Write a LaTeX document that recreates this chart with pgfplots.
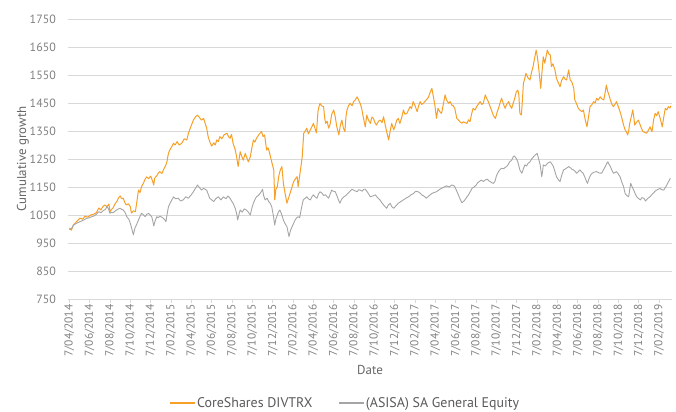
\documentclass[border=0pt]{standalone}
\usepackage{fontspec}
\setmainfont{PT Sans}
\usepackage{pgfplots}
\pgfplotsset{compat=1.18}
\definecolor{cs}{HTML}{F7A028}
\definecolor{eq}{HTML}{A5A5A5}
\definecolor{gridc}{HTML}{D9D9D9}
\definecolor{tickc}{HTML}{808080}
\definecolor{labc}{HTML}{666666}
\definecolor{legc}{HTML}{595959}
\begin{document}
\begin{tikzpicture}
\useasboundingbox (0,0) rectangle (676bp,412bp);
\begin{axis}[
  at={(68bp,113bp)}, anchor=south west, scale only axis,
  width=604bp, height=280bp,
  xmin=-0.13, xmax=59.26, ymin=750, ymax=1750,
  ytick={750,850,...,1750},
  xtick={0,2,...,58},
  xticklabels={7/04/2014,7/06/2014,7/08/2014,7/10/2014,7/12/2014,7/02/2015,7/04/2015,7/06/2015,7/08/2015,7/10/2015,7/12/2015,7/02/2016,7/04/2016,7/06/2016,7/08/2016,7/10/2016,7/12/2016,7/02/2017,7/04/2017,7/06/2017,7/08/2017,7/10/2017,7/12/2017,7/02/2018,7/04/2018,7/06/2018,7/08/2018,7/10/2018,7/12/2018,7/02/2019},
  /pgf/number format/assume math mode=true,
  /pgf/number format/1000 sep={},
  ymajorgrids, grid style={line width=0.9bp, draw=gridc},
  separate axis lines,
  axis x line*=bottom, axis y line*=left,
  x axis line style={draw=gridc, line width=0.9bp, -},
  y axis line style={draw=none},
  ytick style={draw=none},
  xtick style={draw=gridc, line width=0.8bp},
  tick align=outside, major tick length=4bp,
  xticklabel style={rotate=90, anchor=east, font=\fontsize{11.5}{12}\selectfont, text=tickc, inner sep=1.5bp},
  yticklabel style={font=\fontsize{12}{13}\selectfont, text=tickc, inner sep=1bp, xshift=-7bp},
  xlabel={Date}, ylabel={Cumulative growth},
  xlabel style={at={(axis description cs:0.5,-0.2536)}, anchor=center, font=\fontsize{13}{14}\selectfont, text=labc},
  ylabel style={at={(axis description cs:-0.0745,0.5)}, anchor=center, font=\fontsize{13}{14}\selectfont, text=labc},
  legend style={at={(axis description cs:0.4586,-0.372)}, anchor=center, draw=none, fill=none,
    font=\fontsize{14}{15}\selectfont, text=legc,
    nodes={inner sep=1.5bp},
    /tikz/every even column/.append style={column sep=24bp}},
  legend columns=2,
  legend image code/.code={\draw[#1, line width=1.4bp] (0bp,0bp) -- (25bp,0bp);},
  line join=round,
]
\addplot[cs, line width=1bp] coordinates {
(0,1000)(0.2,996)(0.4,1014)(0.6,1022)(0.8,1030)(1.05,1039)(1.3,1035)(1.55,1046)(1.8,1042)(2.1,1050)
(2.4,1053)(2.65,1058)(2.9,1075)(3.1,1068)(3.3,1080)(3.5,1086)(3.7,1080)(3.9,1089)(4.0,1062)(4.15,1070)
(4.3,1075)(4.5,1090)(4.7,1100)(4.85,1112)(5.0,1118)(5.15,1108)(5.3,1110)(5.45,1095)(5.6,1086)(5.8,1090)
(6.0,1080)(6.1,1057)(6.3,1065)(6.5,1062)(6.65,1100)(6.8,1139)(6.95,1130)(7.1,1151)(7.3,1165)(7.45,1178)
(7.6,1186)(7.8,1180)(8.0,1189)(8.15,1175)(8.3,1157)(8.4,1182)(8.6,1190)(8.75,1200)(8.9,1205)(9.1,1198)
(9.25,1211)(9.45,1225)(9.6,1240)(9.7,1262)(9.8,1276)(10.0,1290)(10.25,1306)(10.4,1300)(10.6,1312)(10.8,1300)
(11.05,1306)(11.3,1322)(11.55,1318)(11.7,1340)(11.9,1361)(12.05,1375)(12.2,1389)(12.4,1400)(12.6,1407)(12.8,1398)
(13.0,1389)(13.2,1395)(13.35,1378)(13.5,1361)(13.65,1330)(13.8,1312)(14.0,1296)(14.2,1308)(14.35,1300)(14.5,1318)
(14.65,1312)(14.8,1330)(15.0,1322)(15.2,1336)(15.5,1342)(15.65,1330)(15.8,1324)(15.95,1338)(16.1,1306)(16.3,1285)
(16.45,1258)(16.6,1223)(16.7,1250)(16.8,1276)(16.95,1260)(17.1,1246)(17.3,1270)(17.45,1255)(17.6,1240)(17.8,1258)
(17.95,1290)(18.1,1318)(18.25,1310)(18.4,1324)(18.6,1335)(18.75,1342)(18.9,1348)(19.05,1330)(19.2,1336)(19.4,1282)
(19.55,1290)(19.7,1270)(19.9,1240)(20.1,1211)(20.2,1104)(20.3,1140)(20.45,1151)(20.6,1190)(20.75,1211)(20.9,1223)
(21.05,1163)(21.2,1130)(21.4,1092)(21.55,1110)(21.7,1127)(21.9,1150)(22.05,1169)(22.25,1180)(22.4,1187)(22.5,1151)
(22.65,1190)(22.8,1230)(22.9,1258)(23.05,1342)(23.2,1350)(23.35,1360)(23.5,1340)(23.7,1354)(23.85,1365)(24.0,1377)
(24.15,1360)(24.3,1343)(24.45,1420)(24.55,1437)(24.65,1449)(24.8,1440)(25.0,1437)(25.1,1400)(25.2,1377)(25.35,1385)
(25.5,1360)(25.65,1375)(25.8,1410)(26.0,1425)(26.15,1400)(26.3,1365)(26.5,1336)(26.65,1370)(26.8,1389)(26.95,1360)
(27.1,1348)(27.2,1400)(27.3,1425)(27.45,1440)(27.6,1449)(27.8,1440)(27.95,1455)(28.1,1460)(28.3,1472)(28.45,1460)
(28.6,1449)(28.75,1430)(28.9,1400)(29.1,1365)(29.25,1407)(29.4,1390)(29.6,1377)(29.75,1400)(29.9,1395)(30.05,1380)
(30.2,1371)(30.4,1385)(30.57,1389)(30.75,1380)(30.9,1401)(31.1,1365)(31.25,1340)(31.4,1318)(31.55,1350)(31.7,1377)
(31.9,1354)(32.05,1370)(32.2,1389)(32.35,1395)(32.5,1377)(32.7,1400)(32.85,1425)(33.0,1410)(33.2,1413)(33.35,1425)
(33.5,1437)(33.65,1430)(33.8,1455)(34.0,1440)(34.2,1419)(34.35,1440)(34.5,1455)(34.65,1445)(34.8,1449)(34.95,1455)
(35.1,1461)(35.3,1470)(35.5,1490)(35.65,1502)(35.8,1472)(35.95,1440)(36.1,1395)(36.25,1431)(36.4,1420)(36.6,1413)
(36.8,1450)(36.95,1479)(37.1,1460)(37.3,1449)(37.45,1455)(37.6,1443)(37.75,1440)(37.9,1431)(38.1,1395)(38.25,1390)
(38.4,1383)(38.6,1378)(38.75,1383)(38.9,1380)(39.1,1377)(39.25,1390)(39.4,1383)(39.55,1410)(39.7,1431)(39.9,1425)
(40.05,1437)(40.2,1445)(40.4,1455)(40.55,1445)(40.7,1449)(40.9,1479)(41.05,1465)(41.2,1455)(41.35,1440)(41.5,1425)
(41.7,1405)(41.9,1395)(42.05,1415)(42.2,1431)(42.35,1450)(42.5,1467)(42.7,1445)(42.85,1431)(43.0,1445)(43.2,1455)
(43.35,1440)(43.5,1431)(43.65,1450)(43.8,1467)(43.95,1490)(44.1,1496)(44.2,1480)(44.3,1413)(44.45,1407)(44.55,1460)
(44.65,1520)(44.8,1540)(44.9,1556)(45.1,1540)(45.3,1532)(45.45,1560)(45.6,1580)(45.75,1610)(45.9,1639)(46.0,1620)
(46.1,1592)(46.25,1540)(46.35,1502)(46.5,1570)(46.6,1615)(46.75,1592)(46.9,1620)(47.0,1639)(47.15,1625)(47.3,1621)
(47.4,1580)(47.55,1590)(47.75,1568)(47.9,1538)(48.05,1525)(48.25,1508)(48.4,1530)(48.6,1544)(48.75,1535)(48.9,1532)
(49.05,1560)(49.1,1568)(49.25,1532)(49.4,1526)(49.5,1515)(49.6,1502)(49.7,1461)(49.85,1450)(50.05,1431)(50.2,1425)
(50.4,1419)(50.55,1425)(50.7,1395)(50.9,1365)(51.05,1400)(51.2,1437)(51.4,1445)(51.55,1455)(51.7,1450)(51.85,1467)
(52.0,1460)(52.2,1472)(52.35,1465)(52.55,1461)(52.7,1490)(52.8,1514)(52.95,1490)(53.05,1480)(53.2,1461)(53.35,1445)
(53.5,1437)(53.65,1445)(53.8,1455)(53.95,1440)(54.15,1419)(54.3,1400)(54.5,1371)(54.65,1354)(54.8,1345)(54.9,1336)
(55.0,1350)(55.1,1377)(55.25,1400)(55.4,1425)(55.5,1400)(55.6,1371)(55.75,1380)(55.95,1389)(56.1,1375)(56.25,1360)
(56.4,1348)(56.6,1345)(56.75,1342)(56.9,1350)(57.1,1365)(57.2,1355)(57.3,1348)(57.45,1390)(57.6,1413)(57.75,1405)
(57.9,1419)(58.1,1395)(58.3,1365)(58.45,1400)(58.6,1431)(58.75,1425)(58.9,1437)(59.05,1432)(59.15,1440)
};
\addlegendentry{CoreShares DIVTRX}
\addplot[eq, line width=0.9bp] coordinates {
(0,1003)(0.2,1000)(0.4,1014)(0.6,1018)(0.8,1022)(1.05,1026)(1.3,1030)(1.5,1034)(1.7,1038)(1.95,1040)
(2.2,1044)(2.4,1046)(2.65,1052)(2.9,1062)(3.1,1058)(3.35,1066)(3.55,1070)(3.7,1080)(3.85,1072)(4.0,1056)
(4.15,1060)(4.3,1058)(4.5,1064)(4.65,1068)(4.85,1072)(5.0,1074)(5.15,1070)(5.3,1068)(5.5,1058)(5.65,1044)
(5.85,1035)(6.0,1020)(6.15,1000)(6.3,979)(6.45,1003)(6.6,1015)(6.8,1032)(6.95,1045)(7.1,1056)(7.3,1050)
(7.45,1044)(7.6,1052)(7.8,1056)(7.95,1050)(8.1,1044)(8.2,1030)(8.3,1011)(8.45,1030)(8.6,1044)(8.75,1040)
(8.9,1046)(9.1,1042)(9.25,1038)(9.4,1032)(9.5,1026)(9.6,1050)(9.75,1080)(9.95,1095)(10.1,1105)(10.25,1115)
(10.45,1108)(10.7,1110)(10.95,1100)(11.2,1104)(11.45,1115)(11.7,1110)(11.95,1120)(12.2,1133)(12.4,1145)(12.6,1157)
(12.8,1148)(13.0,1139)(13.2,1145)(13.5,1139)(13.65,1125)(13.8,1110)(14.0,1104)(14.2,1098)(14.4,1108)(14.65,1115)
(14.9,1104)(15.15,1115)(15.4,1108)(15.6,1118)(15.8,1110)(15.95,1100)(16.1,1092)(16.3,1075)(16.45,1056)(16.55,1032)
(16.7,1055)(16.8,1068)(17.0,1060)(17.2,1072)(17.4,1068)(17.6,1060)(17.8,1050)(17.95,1075)(18.1,1092)(18.25,1105)
(18.4,1115)(18.6,1120)(18.75,1127)(18.9,1135)(19.0,1142)(19.1,1120)(19.25,1104)(19.45,1110)(19.6,1098)(19.75,1092)
(19.9,1080)(20.05,1050)(20.2,1014)(20.3,1035)(20.4,1044)(20.55,1060)(20.7,1068)(20.85,1055)(21.05,1032)(21.2,1020)
(21.4,1008)(21.5,990)(21.6,973)(21.75,995)(21.9,1008)(22.05,1020)(22.2,1032)(22.35,1040)(22.5,1044)(22.65,1040)
(22.8,1070)(23.0,1104)(23.2,1110)(23.35,1115)(23.5,1108)(23.7,1104)(23.85,1115)(24.0,1122)(24.15,1115)(24.35,1110)
(24.5,1125)(24.65,1133)(24.85,1128)(25.0,1120)(25.2,1122)(25.35,1115)(25.5,1110)(25.65,1125)(25.8,1139)(25.95,1135)
(26.15,1133)(26.3,1120)(26.45,1105)(26.6,1092)(26.8,1108)(27.0,1115)(27.2,1120)(27.4,1128)(27.6,1135)(27.8,1142)
(28.0,1138)(28.3,1133)(28.45,1140)(28.6,1139)(28.8,1135)(28.95,1142)(29.1,1142)(29.25,1135)(29.4,1127)(29.6,1115)
(29.85,1118)(30.1,1122)(30.3,1112)(30.55,1104)(30.7,1095)(30.9,1086)(31.05,1080)(31.2,1074)(31.35,1085)(31.55,1092)
(31.7,1080)(31.9,1074)(32.1,1082)(32.35,1092)(32.6,1098)(32.85,1104)(33.1,1110)(33.35,1115)(33.6,1122)(33.85,1127)
(34.05,1135)(34.3,1133)(34.5,1128)(34.65,1122)(34.85,1118)(35.1,1110)(35.35,1118)(35.65,1127)(35.85,1130)(36.1,1133)
(36.35,1140)(36.6,1145)(36.85,1150)(37.1,1154)(37.35,1150)(37.6,1157)(37.8,1155)(37.9,1151)(38.1,1135)(38.25,1122)
(38.45,1105)(38.6,1094)(38.75,1098)(38.9,1104)(39.05,1112)(39.25,1122)(39.45,1135)(39.6,1145)(39.8,1150)(40.0,1157)
(40.15,1165)(40.3,1169)(40.5,1175)(40.7,1170)(40.9,1175)(41.1,1178)(41.25,1172)(41.4,1169)(41.55,1165)(41.7,1163)
(41.85,1170)(42.0,1190)(42.2,1205)(42.35,1212)(42.5,1217)(42.7,1215)(42.85,1220)(43.0,1223)(43.15,1230)(43.3,1240)
(43.5,1246)(43.65,1258)(43.75,1261)(43.95,1252)(44.1,1240)(44.3,1211)(44.5,1199)(44.65,1215)(44.8,1229)(44.95,1225)
(45.1,1234)(45.3,1240)(45.5,1252)(45.65,1258)(45.8,1264)(46.0,1270)(46.15,1250)(46.3,1229)(46.45,1187)(46.55,1210)
(46.6,1229)(46.8,1225)(47.0,1234)(47.15,1238)(47.3,1240)(47.45,1232)(47.6,1223)(47.75,1205)(47.9,1187)(48.05,1178)
(48.25,1169)(48.4,1190)(48.6,1211)(48.8,1215)(49.0,1220)(49.1,1223)(49.3,1218)(49.45,1212)(49.6,1211)(49.75,1205)
(49.9,1199)(50.05,1205)(50.2,1211)(50.35,1205)(50.5,1200)(50.7,1185)(50.85,1170)(50.95,1163)(51.1,1180)(51.25,1192)
(51.4,1199)(51.6,1203)(51.85,1205)(52.1,1200)(52.35,1199)(52.5,1210)(52.7,1223)(52.85,1235)(52.95,1240)(53.05,1232)
(53.2,1223)(53.35,1210)(53.5,1199)(53.65,1202)(53.8,1205)(53.95,1198)(54.15,1187)(54.3,1170)(54.5,1151)(54.65,1127)
(54.8,1120)(55.0,1115)(55.1,1140)(55.2,1163)(55.35,1150)(55.5,1139)(55.65,1125)(55.8,1115)(56.0,1108)(56.15,1104)
(56.3,1112)(56.5,1110)(56.65,1100)(56.75,1104)(56.9,1110)(57.1,1115)(57.25,1122)(57.4,1127)(57.6,1135)(57.75,1139)
(57.9,1142)(58.1,1145)(58.25,1140)(58.45,1139)(58.6,1148)(58.75,1157)(58.9,1168)(59.1,1181)
};
\addlegendentry{(ASISA) SA General Equity}
\end{axis}
\end{tikzpicture}
\end{document}
